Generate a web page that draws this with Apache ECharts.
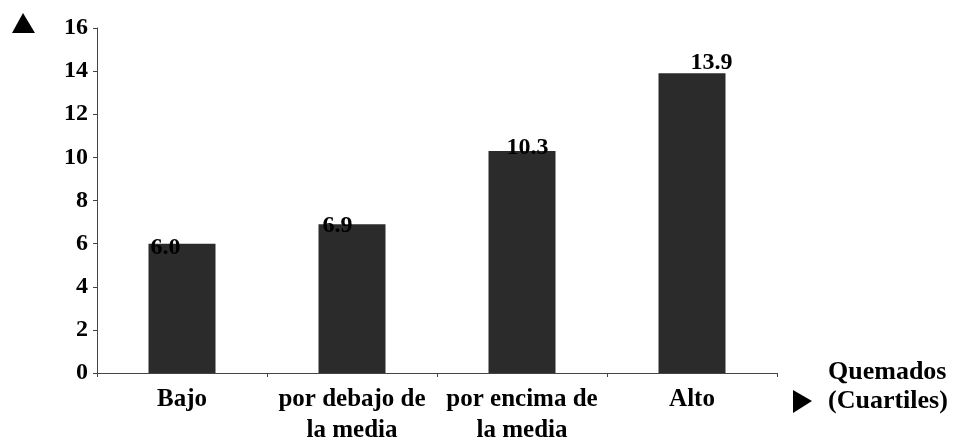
<!DOCTYPE html>
<html>
<head>
<meta charset="utf-8">
<script src="https://cdn.jsdelivr.net/npm/echarts@6/dist/echarts.min.js"></script>
<style>
  html, body { margin: 0; padding: 0; background: #fff; }
  #chart { width: 957px; height: 441px; }
</style>
</head>
<body>
<div id="chart"></div>
<script>
// categories (Quemados, cuartiles)
var categories = ['Bajo', 'por debajo de\nla media', 'por encima de\nla media', 'Alto']
var values = [6.0, 6.9, 10.3, 13.9]
var yTicks = [0, 2, 4, 6, 8, 10, 12, 14, 16]

// where each value label sits relative to the bar's top-left corner
var labelNudge = [[2, 4], [4, 2], [18, -3], [32, -10]]

var font = 'Liberation Serif'
var chart = echarts.init(document.getElementById('chart'))

var option = {
  backgroundColor: '#fff',
  animation: false,
  grid: { left: 97, right: 180, top: 28, bottom: 68, outerBoundsMode: 'none' },
  xAxis: {
    type: 'category',
    data: categories,
    axisLine: { lineStyle: { color: '#444', width: 1 } },
    axisTick: { show: true, length: 4, lineStyle: { color: '#444' } },
    axisLabel: {
      color: '#000',
      fontFamily: font,
      fontWeight: 'bold',
      fontSize: 25,
      lineHeight: 31,
      margin: 11,
      interval: 0
    }
  },
  yAxis: {
    type: 'value',
    min: yTicks[0],
    max: yTicks[yTicks.length - 1],
    interval: 2,
    splitLine: { show: false },
    axisLine: { show: true, lineStyle: { color: '#444', width: 1 } },
    axisTick: { show: true, length: 4, lineStyle: { color: '#444' } },
    axisLabel: {
      color: '#000',
      fontFamily: font,
      fontWeight: 'bold',
      fontSize: 24,
      margin: 9
    }
  },
  series: [
    {
      type: 'bar',
      barWidth: 67,
      itemStyle: { color: '#2b2b2b' },
      data: values.map(function (v, i) {
        return {
          value: v,
          label: {
            show: true,
            position: labelNudge[i],
            align: 'left',
            verticalAlign: 'middle',
            formatter: function (p) { return p.value.toFixed(1) },
            color: '#000',
            fontFamily: font,
            fontWeight: 'bold',
            fontSize: 24
          }
        }
      })
    }
  ],
  graphic: [
    {
      type: 'polygon',
      shape: { points: [[23, 13], [12, 33], [35, 33]] },
      style: { fill: '#000' }
    },
    {
      type: 'polygon',
      shape: { points: [[793, 390], [812, 401], [793, 413]] },
      style: { fill: '#000' }
    },
    {
      type: 'text',
      left: 828,
      top: 358,
      style: {
        text: 'Quemados\n(Cuartiles)',
        fill: '#000',
        font: 'bold 26px "Liberation Serif"',
        lineHeight: 29,
        textAlign: 'left'
      }
    }
  ]
}

chart.setOption(option)
</script>
</body>
</html>
